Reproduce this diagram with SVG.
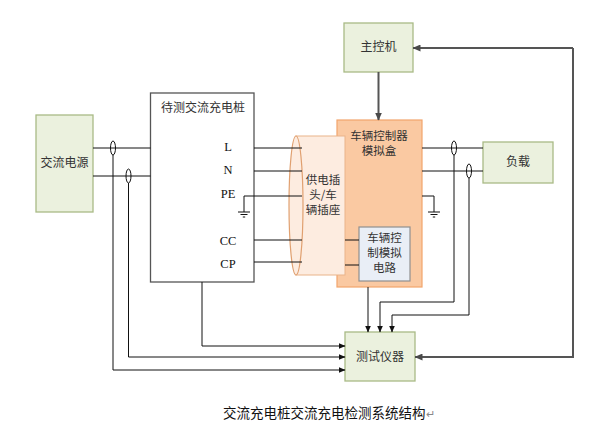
<svg xmlns="http://www.w3.org/2000/svg" width="607" height="424" viewBox="0 0 607 424">
<defs>
<marker id="ah" markerWidth="7" markerHeight="6" refX="6.5" refY="3" orient="auto" markerUnits="userSpaceOnUse"><path d="M0,0 L7,3 L0,6 z" fill="#111"/></marker>
<marker id="ahg" markerWidth="8" markerHeight="7" refX="7.5" refY="3.5" orient="auto" markerUnits="userSpaceOnUse"><path d="M0,0 L8,3.5 L0,7 z" fill="#4a4a4a"/></marker>
</defs>
<style>
.g{fill:#ebf1de;stroke:#a9ba86;stroke-width:1.3}
.t{font-family:"Noto Sans CJK SC",sans-serif;font-size:12px;fill:#333;text-anchor:middle}
.s{font-size:11.5px}
.lat{font-family:"Liberation Serif",serif;font-size:12.5px;fill:#111;text-anchor:middle}
.w{stroke:#111;stroke-width:1;fill:none}
.gr{stroke:#555;stroke-width:2;fill:none}
.ov{stroke:#111;stroke-width:1;fill:none}
</style>
<rect width="607" height="424" fill="#fff"/>

<g id="ac-source">
<rect class="g" x="36" y="115" width="57" height="97"/>
<text class="t" x="64.5" y="167">交流电源</text>
</g>

<g id="charger">
<rect x="150.5" y="93" width="103.5" height="189" fill="#fff" stroke="#555" stroke-width="1.3"/>
<text class="t" x="203" y="112">待测交流充电桩</text>
<text class="lat" x="228" y="151">L</text>
<text class="lat" x="228" y="174">N</text>
<text class="lat" x="228" y="198">PE</text>
<text class="lat" x="228" y="245">CC</text>
<text class="lat" x="228" y="268">CP</text>
</g>

<g id="main-controller">
<rect class="g" x="344" y="23" width="69" height="49"/>
<text class="t" x="378.5" y="51">主控机</text>
</g>

<g id="vehicle-sim-box">
<rect x="337" y="120" width="85" height="167" fill="#fac9a2" stroke="#f2a56c" stroke-width="1.2"/>
<text class="t s" x="379" y="140">车辆控制器</text>
<text class="t s" x="379" y="155">模拟盒</text>
</g>

<g id="connector">
<rect x="296" y="136" width="49" height="139" fill="#fdece0" stroke="#e9b48a" stroke-width="1"/>
<ellipse cx="296" cy="205.5" rx="7" ry="69.5" fill="#fdece0" stroke="#e0a070" stroke-width="1.2"/>
<text class="t s" x="323" y="184">供电插</text>
<text class="t s" x="323" y="199">头/车</text>
<text class="t s" x="323" y="214">辆插座</text>
</g>

<g id="vehicle-sim-circuit">
<rect x="359" y="227" width="51" height="54" fill="#e9eef6" stroke="#8f8f8f" stroke-width="1.2"/>
<text class="t s" x="384.5" y="242">车辆控</text>
<text class="t s" x="384.5" y="257">制模拟</text>
<text class="t s" x="384.5" y="272">电路</text>
</g>

<g id="load">
<rect class="g" x="483" y="142" width="70" height="41"/>
<text class="t" x="518" y="166">负载</text>
</g>

<g id="tester">
<rect class="g" x="345" y="332" width="70" height="49"/>
<text class="t" x="380" y="361">测试仪器</text>
</g>

<g id="connectors">
<path class="w" d="M93,148 H150.5 M93,176 H150.5"/>
<path class="w" d="M254,148 H302 M254,171 H302 M244,196 H302 M254,240 H302 M254,262 H302"/>
<path class="w" d="M244,196 V212 M238,212 H250 M240.5,214.5 H247.5 M242.8,217 H245.2"/>
<path class="w" d="M345,240 H359 M345,265 H359"/>
<path class="w" d="M422,148 H483 M422,171 H483"/>
<path class="w" d="M422,196 H434 V212 M428,212 H440 M430.5,214.5 H437.5 M432.8,217 H435.2"/>
<ellipse class="ov" cx="113" cy="148" rx="2.5" ry="7"/>
<ellipse class="ov" cx="128.5" cy="176" rx="2.5" ry="7"/>
<ellipse class="ov" cx="454" cy="148" rx="2.5" ry="7"/>
<ellipse class="ov" cx="469" cy="171" rx="2.5" ry="7"/>
<path class="w" d="M113,155 V370 H345" marker-end="url(#ah)"/>
<path class="w" d="M128.5,183 V357 H345" marker-end="url(#ah)"/>
<path class="w" d="M202,282 V346 H345" marker-end="url(#ah)"/>
<path class="w" d="M368,287 V332" marker-end="url(#ah)"/>
<path class="w" d="M454,155 V302 H380 V332" marker-end="url(#ah)"/>
<path class="w" d="M469,178 V315 H392 V332" marker-end="url(#ah)"/>
<path class="gr" d="M378.5,72 V120" marker-end="url(#ahg)"/>
<path class="gr" d="M573,48 V357 H415" marker-end="url(#ahg)"/>
<path class="gr" d="M573,48 H413" marker-end="url(#ahg)"/>
</g>

<text x="223" y="418" font-family="'Noto Sans CJK SC',sans-serif" font-size="13.5" fill="#111">交流充电桩交流充电检测系统结构<tspan fill="#888" font-size="11">↵</tspan></text>
</svg>
